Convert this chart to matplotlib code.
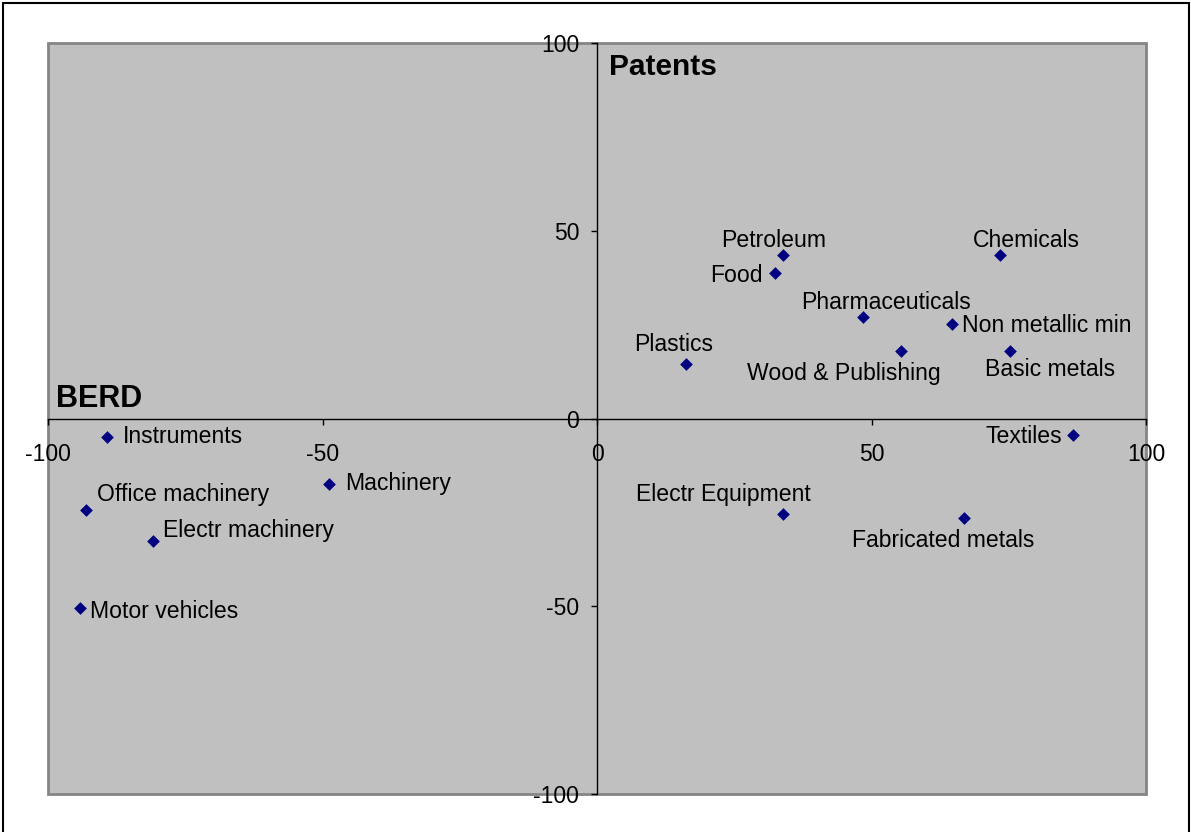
import matplotlib
matplotlib.use("Agg")
import matplotlib.pyplot as plt
from matplotlib.patches import Rectangle

plt.rcParams["font.family"] = ["Liberation Sans", "DejaVu Sans"]

# Industry positions: BERD change (x) versus patent change (y)
industries = [
    "Instruments", "Office machinery", "Electr machinery", "Motor vehicles",
    "Machinery", "Plastics", "Food", "Petroleum", "Pharmaceuticals",
    "Wood & Publishing", "Non metallic min", "Chemicals", "Basic metals",
    "Textiles", "Electr Equipment", "Fabricated metals",
]
berd = [-89.3, -93.1, -80.8, -94.2, -48.9, 16.2, 32.4, 33.9, 48.5,
        55.4, 64.7, 73.4, 75.2, 86.7, 33.9, 66.8]
patents = [-4.9, -24.3, -32.5, -50.4, -17.5, 14.5, 38.7, 43.5, 27.0,
           17.9, 25.1, 43.5, 17.9, -4.5, -25.5, -26.6]
ticks = [-100, -50, 0, 50, 100]

# label placement: (horizontal alignment, dx px, dy px downward)
label_place = {
    "Instruments": ("left", 16, 0),
    "Office machinery": ("left", 11, -15),
    "Electr machinery": ("left", 10, -10),
    "Motor vehicles": ("left", 10, 4),
    "Machinery": ("left", 17, -1),
    "Plastics": ("center", -12, -20),
    "Food": ("right", -12, 2),
    "Petroleum": ("center", -9, -15),
    "Pharmaceuticals": ("center", 23, -15),
    "Wood & Publishing": ("center", -57, 22),
    "Non metallic min": ("left", 10, 1),
    "Chemicals": ("center", 26, -15),
    "Basic metals": ("center", 40, 18),
    "Textiles": ("right", -11, 1),
    "Electr Equipment": ("center", -60, -20),
    "Fabricated metals": ("center", -21, 22),
}

W, H, DPI = 1191, 832, 100
fig = plt.figure(figsize=(W / DPI, H / DPI), dpi=DPI)
fig.patch.set_facecolor("white")

# outer chart border
fig.add_artist(Rectangle((3 / W, -0.01), (1189 - 3) / W, 829 / H + 0.01,
                         transform=fig.transFigure, fill=False,
                         edgecolor="black", linewidth=1.5))

left, right, top, bottom = 48, 1146, 43, 794
ax = fig.add_axes([left / W, (H - bottom) / H, (right - left) / W, (bottom - top) / H])
ax.set_facecolor("#C0C0C0")
ax.set_xlim(-100, 100)
ax.set_ylim(-100, 100)

for side in ("top", "right"):
    ax.spines[side].set_visible(False)
ax.spines["left"].set_position(("data", 0))
ax.spines["bottom"].set_position(("data", 0))
for side in ("left", "bottom"):
    ax.spines[side].set_color("black")
    ax.spines[side].set_linewidth(1.0)
    ax.spines[side].set_zorder(1)

# plot-area frame
ax.add_patch(Rectangle((0, 0), 1, 1, transform=ax.transAxes, fill=False,
                       edgecolor="#858585", linewidth=2.0, clip_on=False, zorder=0.5))

ax.set_xticks(ticks)
ax.set_yticks(ticks)
ax.set_xticklabels([str(t) for t in ticks])
ax.set_yticklabels([str(t) for t in ticks])
ax.tick_params(axis="x", direction="out", length=4.3, width=1, color="black",
               pad=13.5, labelsize=16.5)
ax.tick_params(axis="y", direction="out", length=4.3, width=1, color="black",
               pad=8.4, labelsize=16.5)

ax.scatter(berd, patents, marker="D", s=42, color="#000080", zorder=3,
           linewidths=0)

for name, x, y in zip(industries, berd, patents):
    ha, dx, dy = label_place[name]
    ax.annotate(name, (x, y), xytext=(dx, -dy), textcoords="offset pixels",
                ha=ha, va="center", fontsize=16.6, color="black", zorder=4)

ax.text(-98.5, 5.3, "BERD", fontsize=22, fontweight="bold", ha="left",
        va="center", zorder=4)
ax.text(2.2, 93.6, "Patents", fontsize=21.5, fontweight="bold", ha="left",
        va="center", zorder=4)

fig.savefig("out.png", dpi=DPI)
